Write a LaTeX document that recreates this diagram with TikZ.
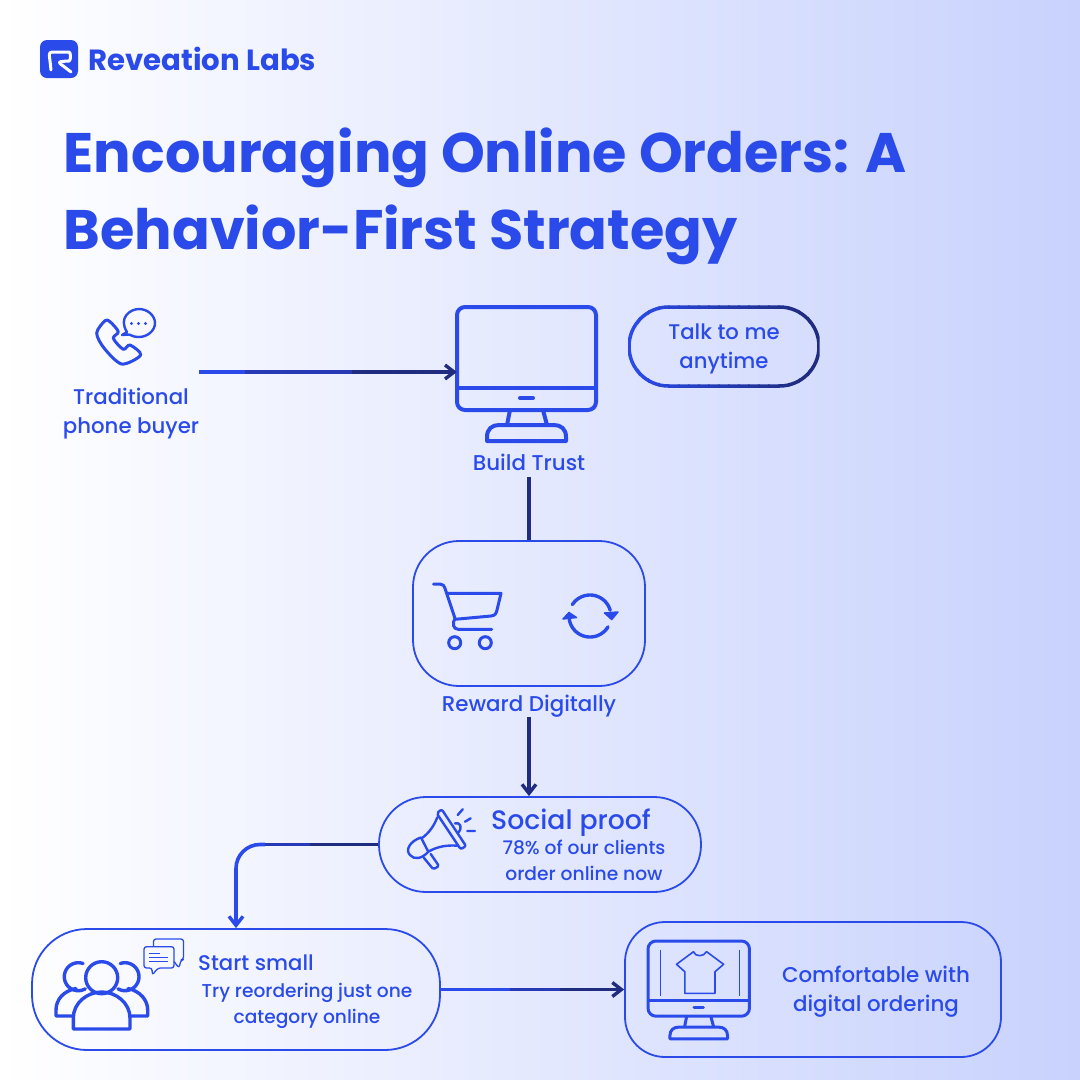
\documentclass[tikz,border=0pt]{standalone}
\usepackage{fontspec}
\setmainfont{Poppins Medium}[BoldFont={Poppins Bold}]
\usetikzlibrary{arrows.meta, positioning}

\definecolor{brand}{HTML}{2A4BEA}
\definecolor{brandmid}{HTML}{2739B4}
\definecolor{branddark}{HTML}{1F2C80}
\definecolor{bgright}{HTML}{C8D2FD}

\tikzset{
    txt/.style={inner sep=0pt, align=center, text=brand},
    panel/.style={draw=brand, line width=1.8pt, inner sep=0pt},
    icon/.style={draw=brand, line width=3pt, line join=round, line cap=round},
    conn/.style={line width=3.6pt}
}

\newcommand{\fs}[1]{\fontsize{#1}{#1}\selectfont}

% monitor drawn from its top left corner
\newcommand{\monitoricon}[4]{
    \begin{scope}[shift={(#1,#2)}, scale=#3, draw=brand, line width=#4pt, line join=round]
        \draw[rounded corners=8] (0,0) rectangle (139,103);
        \draw (0,81) -- (139,81);
        \draw[line cap=round] (63,91) -- (76,91);
        \draw (53,103) -- (50,118);
        \draw (86,103) -- (90,118);
        \draw (30,134) -- (30,130) .. controls (30,122) and (35,118) .. (42,118) -- (97,118) .. controls (104,118) and (109,122) .. (109,130) -- (109,134) -- cycle;
    \end{scope}
}

\begin{document}
\begin{tikzpicture}[x=1pt, y=-1pt, >={Straight Barb[length=9pt,width=14pt,line width=3.4pt]}]
    % Background
    \shade[left color=white, right color=bgright] (0,0) rectangle (1080,1080);
    \useasboundingbox (0,0) rectangle (1080,1080);

    % Logo
    \fill[brand, rounded corners=7] (40,40) rectangle (78,78);
    \draw[white, line width=3pt, line join=round, line cap=round, rounded corners=3] (51,70) -- (49,52) -- (66,52) .. controls (71,52) and (71,61) .. (66,61) -- (58,62) -- (71,72);
    \node[txt, anchor=west, font=\fs{29.2}\bfseries] (logotext) at (88,59) {Reveation Labs};

    % Title
    \node[txt, anchor=west, align=left, font=\fontsize{55.7}{77}\selectfont\bfseries] (title) at (63.5,196) {Encouraging Online Orders: A\\Behavior-First Strategy};

    % Phone buyer
    \draw[icon] plot[smooth cycle, tension=0.5] coordinates {(105,320.7) (96.7,333) (104,348) (121.7,364) (140.7,355) (130,345) (123.3,349.3) (113.3,338.3) (118.3,331.7) (110,321.7)};
    \draw[icon, line width=2.4pt] (122,335) -- (127,332) .. controls (118,318) and (130,309) .. (139,309) .. controls (148,309) and (155,316) .. (155,323) .. controls (155,331) and (147,337) .. (139,337) .. controls (135,337) and (132,336) .. (129,334.5) -- cycle;
    \foreach \dotx in {131.5,138.5,145.5}
        \fill[brand] (\dotx,323.5) circle[radius=1.6];
    \node[txt, font=\fontsize{21.3}{29}\selectfont] (buyer) at (131,413.5) {Traditional\hspace{5pt}\\phone buyer};

    % Build trust
    \monitoricon{457}{307}{1}{4}
    \node[minimum width=140pt, minimum height=130pt, inner sep=0pt] (monitor) at (527,372) {};
    \node[txt, font=\fs{21.4}] (trust) at (529,462.5) {Build Trust};
    \node[txt, minimum width=190pt, minimum height=79pt, font=\fontsize{21.2}{29}\selectfont] (talk) at (724,349) {Talk to me\\anytime};
    \foreach \i in {0,...,18} {
        \pgfmathsetmacro{\mixval}{min(100,\i*6)}
        \begin{scope}
            \clip (629+\i*10-1,300) rectangle ++(11.5,95);
            \draw[draw=branddark!\mixval!brand, line width=3.5pt] (668.5,307) -- (779.5,307) .. controls (801.3,307) and (819,324.7) .. (819,346.5) .. controls (819,368.3) and (801.3,386) .. (779.5,386) -- (668.5,386) .. controls (646.7,386) and (629,368.3) .. (629,346.5) .. controls (629,324.7) and (646.7,307) .. (668.5,307) -- cycle;
        \end{scope}
    }

    % Reward digitally
    \node[panel, minimum width=232pt, minimum height=145pt, rounded corners=46] (reward) at (529,613.5) {};
    \draw[icon] (433.5,584) -- (440,584) .. controls (443,584) and (444.5,586) .. (445,588.3) -- (455,618.3) .. controls (452,623) and (453,629.3) .. (458.3,629.3) -- (491.7,629.3);
    \draw[icon] (446.7,593.3) -- (501,593.3) -- (497,610) .. controls (496,614) and (495,615.5) .. (491,616) -- (455,619.3);
    \draw[icon] (454.7,642.7) circle[radius=6] (485.3,642.7) circle[radius=6];
    \draw[icon, line width=3.4pt, domain=16:147, samples=30] plot ({590+21*cos(\x)},{616-21*sin(\x)});
    \draw[icon, line width=3.4pt, domain=190:329, samples=30] plot ({590+21*cos(\x)},{616-21*sin(\x)});
    \fill[brand, draw=brand, line join=round, line width=1.5pt] (604.5,613) -- (618,612) -- (611.7,619.5) -- cycle;
    \fill[brand, draw=brand, line join=round, line width=1.5pt] (563,619) -- (576.5,617.5) -- (569,612.5) -- cycle;
    \node[txt, font=\fs{21.4}] (rewardtext) at (529,706) {Reward Digitally};

    % Social proof
    \node[panel, minimum width=322pt, minimum height=95pt, rounded corners=47] (social) at (540,844.5) {};
    \draw[icon, line width=2.4pt, rounded corners=2] (436.7,813.3) -- (441.7,809.3) -- (466,846) -- (460.7,849.3) -- cycle;
    \draw[icon, line width=2.4pt] (421.7,838.3) .. controls (429,833) and (434,826) .. (437.3,817.3);
    \draw[icon, line width=2.4pt] (428.3,851.7) .. controls (438,846) and (448,845) .. (457.3,845.7);
    \draw[icon, line width=2.4pt] (421,837.5) .. controls (410,841) and (405,850) .. (410,855) .. controls (414,860) and (422,859) .. (428.3,851.7) -- cycle;
    \draw[icon, line width=2.4pt, rounded corners=1.5] (424,858) -- (433.3,869.3) -- (439,866) -- (430.7,854);
    \draw[icon, line width=2.4pt] (455,823.3) .. controls (460,822) and (463,827) .. (458.3,832.7);
    \draw[icon, line width=2.4pt] (457.7,815) -- (462.7,809.3) (465,821.7) -- (470.7,818.3) (467.3,831) -- (475,831);
    \node[txt, anchor=west, font=\fs{26.7}] (socialhead) at (491,822.5) {Social proof};
    \node[txt, font=\fontsize{18.7}{26}\selectfont] (socialtext) at (584,860) {78\% of our clients\\order online now};

    % Start small
    \node[panel, minimum width=408pt, minimum height=121pt, rounded corners=55] (start) at (236,989.5) {};
    \draw[icon, line width=3.4pt] (101.7,977.7) circle[radius=16];
    \draw[icon, line width=3.4pt] (73.3,1029) -- (73.3,1018) .. controls (73.3,1003) and (87,992) .. (101.7,992) .. controls (116,992) and (130,1003) .. (130,1018) -- (130,1029) -- cycle;
    \draw[icon, line width=3.4pt, domain=70:300, samples=30] plot ({78.3+14*cos(\x)},{976.7-14*sin(\x)});
    \draw[icon, line width=3.4pt, domain=-120:110, samples=30] plot ({125+14*cos(\x)},{976.7-14*sin(\x)});
    \draw[icon, line width=3.4pt] (73,1016) -- (56,1016) -- (56,1010) .. controls (56,1000) and (63,991) .. (76,988.5);
    \draw[icon, line width=3.4pt] (130,1016) -- (147.7,1016) -- (147.7,1010) .. controls (147.7,1000) and (140,991) .. (128,988.5);
    \draw[brand, line width=1.3pt, line join=round, rounded corners=2.5] (153.5,946.7) -- (153.5,939) -- (183.5,939) -- (183.5,959.5) -- (181,960) -- (179,968) -- (174,961.5);
    \draw[brand, line width=1.3pt, line join=round, rounded corners=2.5] (144,946.7) -- (174,946.7) -- (174,968) -- (158,968) -- (152.3,975) -- (152,968) -- (144,968) -- cycle;
    \draw[brand, line width=1.2pt] (149.3,953.3) -- (160,953.3) (149.3,957.7) -- (168.3,957.7) (149.3,961.7) -- (168.3,961.7);
    \node[txt, anchor=west, font=\fs{21.2}] (starthead) at (198,963) {Start small};
    \node[txt, font=\fontsize{18.6}{26}\selectfont] (starttext) at (307,1006) {Try reordering just one\\category online};

    % Comfortable with digital ordering
    \node[panel, minimum width=376pt, minimum height=135pt, rounded corners=40] (done) at (813,989.5) {};
    \monitoricon{648}{941}{0.73}{3}
    \draw[brand, line width=0.5pt] (660,950) -- (660,996) (739,950) -- (739,996);
    \draw[brand, line width=1.6pt, line join=round] (693.5,951.7) .. controls (695,957) and (704,957) .. (706.6,951.7) -- (723.6,964.3) -- (715,971.7) -- (715,993.3) -- (684.8,993.3) -- (684.8,971.7) -- (676.5,964.3) -- cycle;
    \node[txt, font=\fontsize{21.4}{29}\selectfont] (donetext) at (876,992) {Comfortable with\hspace{2pt}\\digital ordering\hspace{5pt}};

    % Connectors
    \coordinate (buyerout) at (199,372);
    \coordinate (buyera) at (245,372);
    \coordinate (buyerb) at (352,372);
    \draw[conn, brand] (buyerout) -- (buyera);
    \draw[conn, brandmid] (buyera) -- (buyerb);
    \draw[conn, branddark, ->] (buyerb) -- (monitor.west);

    \draw[conn, branddark] (trust.south |- 0,477) -- (reward.north -| trust);

    \draw[conn, branddark, ->] (rewardtext.south |- 0,717) -- (rewardtext.south |- social.north);

    \coordinate (socialbenda) at (310,844.5);
    \coordinate (socialbendb) at (265,844.5);
    \draw[conn, branddark] (social.west) -- (socialbenda);
    \draw[conn, brandmid] (socialbenda) -- (socialbendb);
    \draw[conn, brand, ->, rounded corners=24] (socialbendb) -| (start.north);

    \coordinate (starta) at (510,989.5);
    \coordinate (startb) at (560,989.5);
    \draw[conn, brand] (start.east) -- (starta);
    \draw[conn, brandmid] (starta) -- (startb);
    \draw[conn, branddark, ->] (startb) -- (done.west);
\end{tikzpicture}
\end{document}
